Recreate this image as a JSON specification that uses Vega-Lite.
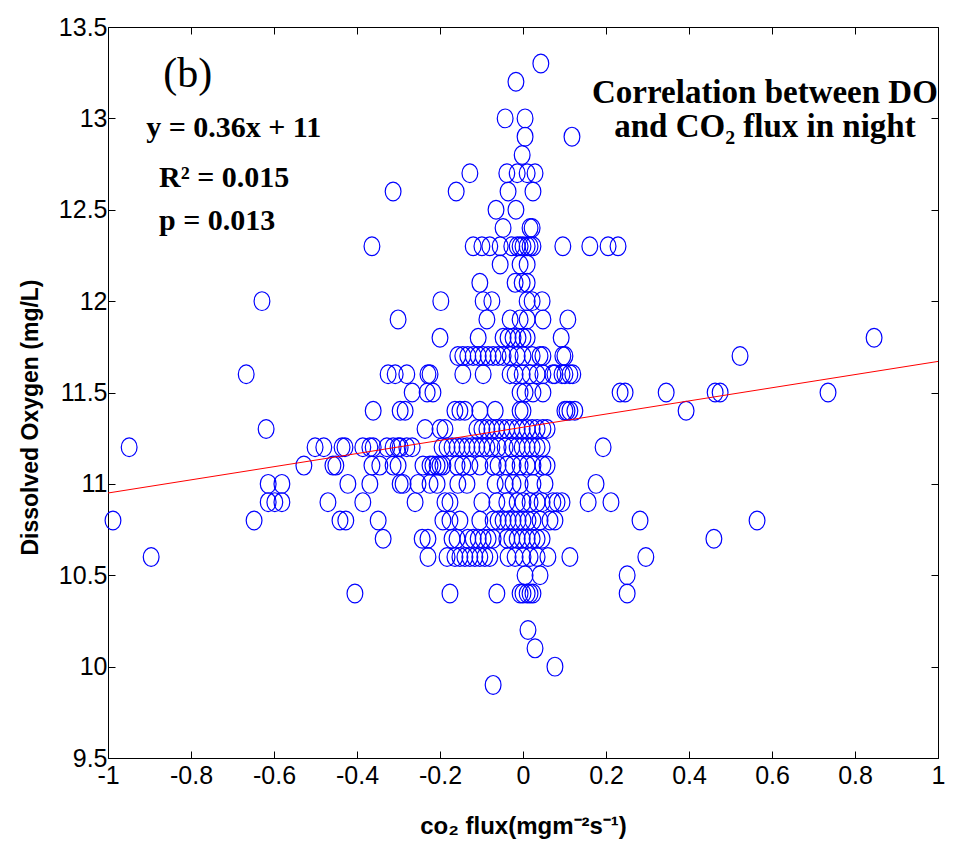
{
"$schema": "https://vega.github.io/schema/vega-lite/v6.json",
"width": 830, "height": 731,
"autosize": {"type": "none"},
"padding": {"left": 108, "top": 27, "right": 21, "bottom": 95},
"background": "white",
"config": {
  "view": {"stroke": "black", "strokeWidth": 1},
  "axis": {"domain": false, "grid": false, "tickColor": "black", "tickSize": -7, "tickWidth": 1, "labelColor": "black", "labelFont": "Liberation Sans Narrow, Liberation Sans", "labelFontSize": 25, "labelFlush": false, "labelOverlap": false, "titleColor": "black", "titleFont": "Liberation Sans", "titleFontWeight": "bold"}
},
"datasets": {
  "fit": [{"flux": -1, "do": 10.95}, {"flux": 1, "do": 11.67}],
  "points": [
{"flux":0.043,"do":13.3},{"flux":-0.017,"do":13.2},{"flux":-0.043,"do":13.0},{"flux":0.005,"do":13.0},
{"flux":0.005,"do":12.9},{"flux":0.118,"do":12.9},{"flux":-0.002,"do":12.8},
{"flux":-0.128,"do":12.7},{"flux":-0.039,"do":12.7},{"flux":-0.014,"do":12.7},{"flux":0.010,"do":12.7},{"flux":0.029,"do":12.7},
{"flux":-0.313,"do":12.6},{"flux":-0.161,"do":12.6},{"flux":-0.036,"do":12.6},{"flux":0.024,"do":12.6},
{"flux":-0.065,"do":12.5},{"flux":-0.017,"do":12.5},
{"flux":-0.048,"do":12.4},{"flux":0.017,"do":12.4},{"flux":0.022,"do":12.4},
{"flux":-0.364,"do":12.3},{"flux":-0.120,"do":12.3},{"flux":-0.099,"do":12.3},{"flux":-0.080,"do":12.3},{"flux":-0.055,"do":12.3},{"flux":-0.027,"do":12.3},{"flux":-0.014,"do":12.3},{"flux":-0.007,"do":12.3},{"flux":0.0,"do":12.3},{"flux":0.010,"do":12.3},{"flux":0.017,"do":12.3},{"flux":0.024,"do":12.3},{"flux":0.096,"do":12.3},{"flux":0.161,"do":12.3},{"flux":0.205,"do":12.3},{"flux":0.229,"do":12.3},
{"flux":-0.055,"do":12.2},{"flux":-0.007,"do":12.2},{"flux":0.010,"do":12.2},
{"flux":-0.104,"do":12.1},{"flux":-0.019,"do":12.1},{"flux":-0.002,"do":12.1},{"flux":0.010,"do":12.1},
{"flux":-0.629,"do":12.0},{"flux":-0.198,"do":12.0},{"flux":-0.096,"do":12.0},{"flux":-0.075,"do":12.0},{"flux":0.010,"do":12.0},{"flux":0.022,"do":12.0},{"flux":0.046,"do":12.0},
{"flux":-0.301,"do":11.9},{"flux":-0.087,"do":11.9},{"flux":-0.031,"do":11.9},{"flux":-0.007,"do":11.9},{"flux":0.010,"do":11.9},{"flux":0.048,"do":11.9},{"flux":0.108,"do":11.9},
{"flux":-0.200,"do":11.8},{"flux":-0.108,"do":11.8},{"flux":-0.048,"do":11.8},{"flux":-0.036,"do":11.8},{"flux":-0.024,"do":11.8},{"flux":-0.012,"do":11.8},{"flux":0.0,"do":11.8},{"flux":0.010,"do":11.8},{"flux":0.092,"do":11.8},{"flux":0.846,"do":11.8},
{"flux":-0.157,"do":11.7},{"flux":-0.145,"do":11.7},{"flux":-0.133,"do":11.7},{"flux":-0.120,"do":11.7},{"flux":-0.108,"do":11.7},{"flux":-0.096,"do":11.7},{"flux":-0.084,"do":11.7},{"flux":-0.072,"do":11.7},{"flux":-0.060,"do":11.7},{"flux":-0.048,"do":11.7},{"flux":-0.031,"do":11.7},{"flux":-0.014,"do":11.7},{"flux":0.0,"do":11.7},{"flux":0.022,"do":11.7},{"flux":0.041,"do":11.7},{"flux":0.048,"do":11.7},{"flux":0.096,"do":11.7},{"flux":0.101,"do":11.7},{"flux":0.523,"do":11.7},
{"flux":-0.667,"do":11.6},{"flux":-0.325,"do":11.6},{"flux":-0.308,"do":11.6},{"flux":-0.280,"do":11.6},{"flux":-0.229,"do":11.6},{"flux":-0.224,"do":11.6},{"flux":-0.145,"do":11.6},{"flux":-0.096,"do":11.6},{"flux":-0.031,"do":11.6},{"flux":-0.019,"do":11.6},{"flux":-0.002,"do":11.6},{"flux":0.017,"do":11.6},{"flux":0.034,"do":11.6},{"flux":0.048,"do":11.6},{"flux":0.072,"do":11.6},{"flux":0.077,"do":11.6},{"flux":0.094,"do":11.6},{"flux":0.101,"do":11.6},{"flux":0.113,"do":11.6},{"flux":0.120,"do":11.6},
{"flux":-0.267,"do":11.5},{"flux":-0.231,"do":11.5},{"flux":-0.217,"do":11.5},{"flux":-0.007,"do":11.5},{"flux":0.005,"do":11.5},{"flux":0.024,"do":11.5},{"flux":0.048,"do":11.5},{"flux":0.234,"do":11.5},{"flux":0.246,"do":11.5},{"flux":0.345,"do":11.5},{"flux":0.463,"do":11.5},{"flux":0.475,"do":11.5},{"flux":0.735,"do":11.5},
{"flux":-0.361,"do":11.4},{"flux":-0.296,"do":11.4},{"flux":-0.284,"do":11.4},{"flux":-0.164,"do":11.4},{"flux":-0.152,"do":11.4},{"flux":-0.140,"do":11.4},{"flux":-0.104,"do":11.4},{"flux":-0.067,"do":11.4},{"flux":-0.007,"do":11.4},{"flux":0.0,"do":11.4},{"flux":0.101,"do":11.4},{"flux":0.106,"do":11.4},{"flux":0.113,"do":11.4},{"flux":0.125,"do":11.4},{"flux":0.393,"do":11.4},
{"flux":-0.619,"do":11.3},{"flux":-0.236,"do":11.3},{"flux":-0.200,"do":11.3},{"flux":-0.188,"do":11.3},{"flux":-0.111,"do":11.3},{"flux":-0.099,"do":11.3},{"flux":-0.087,"do":11.3},{"flux":-0.075,"do":11.3},{"flux":-0.063,"do":11.3},{"flux":-0.051,"do":11.3},{"flux":-0.039,"do":11.3},{"flux":-0.027,"do":11.3},{"flux":-0.014,"do":11.3},{"flux":-0.002,"do":11.3},{"flux":0.010,"do":11.3},{"flux":0.022,"do":11.3},{"flux":0.034,"do":11.3},{"flux":0.048,"do":11.3},{"flux":0.058,"do":11.3},
{"flux":-0.949,"do":11.2},{"flux":-0.501,"do":11.2},{"flux":-0.480,"do":11.2},{"flux":-0.436,"do":11.2},{"flux":-0.429,"do":11.2},{"flux":-0.386,"do":11.2},{"flux":-0.369,"do":11.2},{"flux":-0.361,"do":11.2},{"flux":-0.328,"do":11.2},{"flux":-0.313,"do":11.2},{"flux":-0.301,"do":11.2},{"flux":-0.296,"do":11.2},{"flux":-0.280,"do":11.2},{"flux":-0.267,"do":11.2},{"flux":-0.195,"do":11.2},{"flux":-0.183,"do":11.2},{"flux":-0.171,"do":11.2},{"flux":-0.159,"do":11.2},{"flux":-0.147,"do":11.2},{"flux":-0.135,"do":11.2},{"flux":-0.123,"do":11.2},{"flux":-0.111,"do":11.2},{"flux":-0.099,"do":11.2},{"flux":-0.087,"do":11.2},{"flux":-0.075,"do":11.2},{"flux":-0.060,"do":11.2},{"flux":-0.043,"do":11.2},{"flux":-0.027,"do":11.2},{"flux":-0.014,"do":11.2},{"flux":-0.002,"do":11.2},{"flux":0.010,"do":11.2},{"flux":0.022,"do":11.2},{"flux":0.034,"do":11.2},{"flux":0.046,"do":11.2},{"flux":0.193,"do":11.2},
{"flux":-0.528,"do":11.1},{"flux":-0.458,"do":11.1},{"flux":-0.451,"do":11.1},{"flux":-0.364,"do":11.1},{"flux":-0.345,"do":11.1},{"flux":-0.313,"do":11.1},{"flux":-0.301,"do":11.1},{"flux":-0.241,"do":11.1},{"flux":-0.224,"do":11.1},{"flux":-0.217,"do":11.1},{"flux":-0.207,"do":11.1},{"flux":-0.200,"do":11.1},{"flux":-0.193,"do":11.1},{"flux":-0.159,"do":11.1},{"flux":-0.145,"do":11.1},{"flux":-0.128,"do":11.1},{"flux":-0.104,"do":11.1},{"flux":-0.072,"do":11.1},{"flux":-0.060,"do":11.1},{"flux":-0.039,"do":11.1},{"flux":-0.024,"do":11.1},{"flux":-0.007,"do":11.1},{"flux":0.010,"do":11.1},{"flux":0.024,"do":11.1},{"flux":0.048,"do":11.1},{"flux":0.058,"do":11.1},
{"flux":-0.614,"do":11.0},{"flux":-0.581,"do":11.0},{"flux":-0.422,"do":11.0},{"flux":-0.369,"do":11.0},{"flux":-0.296,"do":11.0},{"flux":-0.289,"do":11.0},{"flux":-0.253,"do":11.0},{"flux":-0.224,"do":11.0},{"flux":-0.207,"do":11.0},{"flux":-0.157,"do":11.0},{"flux":-0.135,"do":11.0},{"flux":-0.067,"do":11.0},{"flux":-0.043,"do":11.0},{"flux":-0.024,"do":11.0},{"flux":-0.007,"do":11.0},{"flux":0.024,"do":11.0},{"flux":0.053,"do":11.0},{"flux":0.176,"do":11.0},
{"flux":-0.614,"do":10.9},{"flux":-0.598,"do":10.9},{"flux":-0.581,"do":10.9},{"flux":-0.470,"do":10.9},{"flux":-0.386,"do":10.9},{"flux":-0.260,"do":10.9},{"flux":-0.188,"do":10.9},{"flux":-0.176,"do":10.9},{"flux":-0.099,"do":10.9},{"flux":-0.063,"do":10.9},{"flux":-0.039,"do":10.9},{"flux":-0.014,"do":10.9},{"flux":0.0,"do":10.9},{"flux":0.017,"do":10.9},{"flux":0.034,"do":10.9},{"flux":0.046,"do":10.9},{"flux":0.072,"do":10.9},{"flux":0.082,"do":10.9},{"flux":0.094,"do":10.9},{"flux":0.157,"do":10.9},{"flux":0.212,"do":10.9},
{"flux":-0.988,"do":10.8},{"flux":-0.648,"do":10.8},{"flux":-0.441,"do":10.8},{"flux":-0.427,"do":10.8},{"flux":-0.349,"do":10.8},{"flux":-0.193,"do":10.8},{"flux":-0.176,"do":10.8},{"flux":-0.152,"do":10.8},{"flux":-0.104,"do":10.8},{"flux":-0.072,"do":10.8},{"flux":-0.060,"do":10.8},{"flux":-0.048,"do":10.8},{"flux":-0.036,"do":10.8},{"flux":-0.024,"do":10.8},{"flux":-0.012,"do":10.8},{"flux":0.0,"do":10.8},{"flux":0.012,"do":10.8},{"flux":0.024,"do":10.8},{"flux":0.041,"do":10.8},{"flux":0.065,"do":10.8},{"flux":0.077,"do":10.8},{"flux":0.282,"do":10.8},{"flux":0.564,"do":10.8},
{"flux":-0.337,"do":10.7},{"flux":-0.243,"do":10.7},{"flux":-0.229,"do":10.7},{"flux":-0.171,"do":10.7},{"flux":-0.159,"do":10.7},{"flux":-0.133,"do":10.7},{"flux":-0.120,"do":10.7},{"flux":-0.108,"do":10.7},{"flux":-0.096,"do":10.7},{"flux":-0.084,"do":10.7},{"flux":-0.072,"do":10.7},{"flux":-0.039,"do":10.7},{"flux":-0.027,"do":10.7},{"flux":-0.014,"do":10.7},{"flux":-0.002,"do":10.7},{"flux":0.010,"do":10.7},{"flux":0.022,"do":10.7},{"flux":0.034,"do":10.7},{"flux":0.046,"do":10.7},{"flux":0.460,"do":10.7},
{"flux":-0.896,"do":10.6},{"flux":-0.229,"do":10.6},{"flux":-0.183,"do":10.6},{"flux":-0.164,"do":10.6},{"flux":-0.152,"do":10.6},{"flux":-0.140,"do":10.6},{"flux":-0.128,"do":10.6},{"flux":-0.116,"do":10.6},{"flux":-0.104,"do":10.6},{"flux":-0.092,"do":10.6},{"flux":-0.080,"do":10.6},{"flux":-0.036,"do":10.6},{"flux":-0.019,"do":10.6},{"flux":0.0,"do":10.6},{"flux":0.017,"do":10.6},{"flux":0.034,"do":10.6},{"flux":0.060,"do":10.6},{"flux":0.113,"do":10.6},{"flux":0.296,"do":10.6},
{"flux":0.005,"do":10.5},{"flux":0.041,"do":10.5},{"flux":0.251,"do":10.5},
{"flux":-0.405,"do":10.4},{"flux":-0.176,"do":10.4},{"flux":-0.063,"do":10.4},{"flux":-0.007,"do":10.4},{"flux":0.0,"do":10.4},{"flux":0.010,"do":10.4},{"flux":0.017,"do":10.4},{"flux":0.024,"do":10.4},{"flux":0.251,"do":10.4},
{"flux":0.012,"do":10.2},{"flux":0.029,"do":10.1},{"flux":0.077,"do":10.0},{"flux":-0.072,"do":9.9}
  ],
  "tag": [{"flux": -0.867, "do": 13.172, "label": "(b)"}],
  "stats": [
    {"flux": -0.908, "do": 12.898, "label": "y = 0.36x + 11"},
    {"flux": -0.877, "do": 12.624, "label": "R² = 0.015"},
    {"flux": -0.877, "do": 12.389, "label": "p = 0.013"}
  ],
  "heading": [
    {"flux": 0.583, "do": 13.084, "label": "Correlation between DO"},
    {"flux": 0.583, "do": 12.898, "label": "and CO₂ flux in night"}
  ]
},
"layer": [
  {
    "data": {"name": "points"},
    "mark": {"type": "point", "shape": "M -0.84 0 A 0.84 1 0 1 0 0.84 0 A 0.84 1 0 1 0 -0.84 0 Z", "size": 353, "filled": false, "stroke": "#0000ff", "strokeWidth": 1.2, "opacity": 1},
    "encoding": {
      "x": {"field": "flux", "type": "quantitative", "scale": {"domain": [-1, 1], "nice": false, "zero": false},
        "axis": {"orient": "bottom", "values": [-1, -0.8, -0.6, -0.4, -0.2, 0, 0.2, 0.4, 0.6, 0.8, 1], "labelExpr": "'' + datum.value", "labelPadding": 12, "title": "co₂ flux(mgm⁻²s⁻¹)", "titleFontSize": 24, "titleX": 415, "titleY": 75, "titleAlign": "center", "titleBaseline": "alphabetic"}},
      "y": {"field": "do", "type": "quantitative", "scale": {"domain": [9.5, 13.5], "nice": false, "zero": false},
        "axis": {"orient": "left", "values": [9.5, 10, 10.5, 11, 11.5, 12, 12.5, 13, 13.5], "labelExpr": "'' + datum.value", "labelPadding": 8, "title": "Dissolved Oxygen (mg/L)", "titleFontSize": 23, "titleAngle": -90, "titleX": -78, "titleY": 390, "titleAlign": "center", "titleBaseline": "middle"}}
    }
  },
  {
    "data": {"name": "fit"},
    "mark": {"type": "line", "color": "#ff0000", "strokeWidth": 1},
    "encoding": {
      "x": {"field": "flux", "type": "quantitative", "axis": {"orient": "top", "labels": false, "title": null, "values": [-1, -0.8, -0.6, -0.4, -0.2, 0, 0.2, 0.4, 0.6, 0.8, 1]}},
      "y": {"field": "do", "type": "quantitative", "axis": {"orient": "right", "labels": false, "title": null, "values": [9.5, 10, 10.5, 11, 11.5, 12, 12.5, 13, 13.5]}}
    }
  },
  {
    "data": {"name": "tag"},
    "mark": {"type": "text", "font": "Liberation Serif", "fontSize": 42, "align": "left", "baseline": "alphabetic", "color": "black"},
    "encoding": {
      "x": {"field": "flux", "type": "quantitative", "axis": null},
      "y": {"field": "do", "type": "quantitative", "axis": null},
      "text": {"field": "label"}
    }
  },
  {
    "data": {"name": "stats"},
    "mark": {"type": "text", "font": "Liberation Serif", "fontSize": 30, "fontWeight": "bold", "align": "left", "baseline": "alphabetic", "color": "black"},
    "encoding": {
      "x": {"field": "flux", "type": "quantitative", "axis": null},
      "y": {"field": "do", "type": "quantitative", "axis": null},
      "text": {"field": "label"}
    }
  },
  {
    "data": {"name": "heading"},
    "mark": {"type": "text", "font": "Liberation Serif", "fontSize": 33, "fontWeight": "bold", "align": "center", "baseline": "alphabetic", "color": "black"},
    "encoding": {
      "x": {"field": "flux", "type": "quantitative", "axis": null},
      "y": {"field": "do", "type": "quantitative", "axis": null},
      "text": {"field": "label"}
    }
  }
]
}
